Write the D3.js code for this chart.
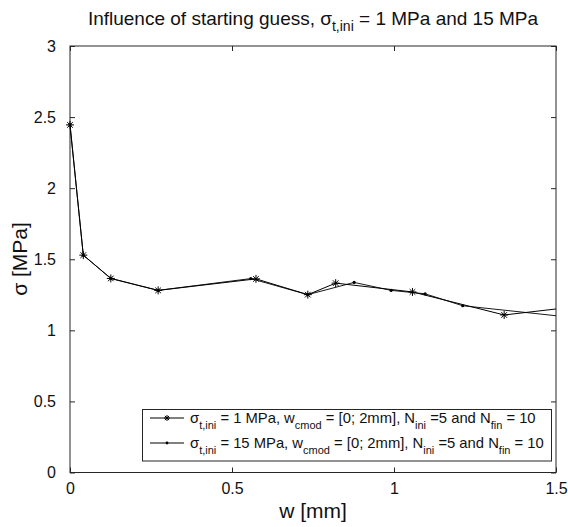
<!DOCTYPE html>
<html><head><meta charset="utf-8">
<script src="https://cdn.jsdelivr.net/npm/d3@7"></script>
<style>body{margin:0;background:#fff}svg{display:block;font-family:"Liberation Sans",Arial,sans-serif}</style>
</head><body>
<svg id="c" width="568" height="527"></svg>
<script>
const xTicks = [0, 0.5, 1, 1.5];
const yTicks = [0, 0.5, 1, 1.5, 2, 2.5, 3];
const xTickLabels = ["0", "0.5", "1", "1.5"];
const yTickLabels = ["0", "0.5", "1", "1.5", "2", "2.5", "3"];
// series 1: sigma_t,ini = 1 MPa (asterisk markers)
const s1W = [0, 0.041, 0.126, 0.272, 0.574, 0.734, 0.820, 1.057, 1.340, 1.70];
const s1S = [2.445, 1.529, 1.365, 1.281, 1.362, 1.251, 1.332, 1.270, 1.108, 1.203];
// series 2: sigma_t,ini = 15 MPa (point markers)
const s2W = [0, 0.041, 0.126, 0.272, 0.558, 0.734, 0.877, 0.991, 1.096, 1.212, 1.70];
const s2S = [2.445, 1.529, 1.365, 1.281, 1.364, 1.251, 1.337, 1.281, 1.257, 1.173, 1.054];
const legendRows = [
  [["σ"],["t,ini",1],[" = 1 MPa, w"],["cmod",1],[" = [0; 2mm], N"],["ini",1],[" =5 and N"],["fin",1],[" = 10"]],
  [["σ"],["t,ini",1],[" = 15 MPa, w"],["cmod",1],[" = [0; 2mm], N"],["ini",1],[" =5 and N"],["fin",1],[" = 10"]]
];
const titleSegs = [["Influence of starting guess, σ"],["t,ini",1],[" = 1 MPa and 15 MPa"]];

const svg = d3.select("#c");
const L = 70, R = 556, T = 46, B = 472.5;
const x = d3.scaleLinear().domain([0, 1.5]).range([L, R]);
const y = d3.scaleLinear().domain([0, 3]).range([B, T]);
const axCol = "#262626";

svg.append("defs").append("clipPath").attr("id","clip")
  .append("rect").attr("x",L).attr("y",T).attr("width",R-L).attr("height",B-T);

function rich(t, segs, size, subSize, subDy) {
  let prevSub = false;
  segs.forEach(s => {
    const isSub = !!s[1];
    const sp = t.append("tspan").text(s[0]).attr("font-size", isSub ? subSize : size);
    if (isSub && !prevSub) sp.attr("dy", subDy);
    if (!isSub && prevSub) sp.attr("dy", -subDy);
    prevSub = isSub;
  });
  return t;
}

// axes (box with inward ticks)
const axG = svg.append("g");
const bottomAxis = d3.axisBottom(x).tickValues(xTicks).tickSize(-5).tickFormat((d,i)=>xTickLabels[i]).tickPadding(10);
const topAxis = d3.axisTop(x).tickValues(xTicks).tickSize(-5).tickFormat("");
const leftAxis = d3.axisLeft(y).tickValues(yTicks).tickSize(-5).tickFormat((d,i)=>yTickLabels[i]).tickPadding(14);
const rightAxis = d3.axisRight(y).tickValues(yTicks).tickSize(-5).tickFormat("");
[[bottomAxis,`translate(0,${B})`],[topAxis,`translate(0,${T})`],[leftAxis,`translate(${L},0)`],[rightAxis,`translate(${R},0)`]].forEach(([a,tr])=>{
  const g = axG.append("g").attr("transform",tr).call(a);
  g.select(".domain").attr("stroke",axCol).attr("d", null);
  g.selectAll(".tick line").attr("stroke",axCol);
  g.selectAll("text").attr("fill","#111").attr("font-size",16).attr("font-family","Liberation Sans, Arial, sans-serif");
});
axG.append("rect").attr("x",L).attr("y",T).attr("width",R-L).attr("height",B-T)
  .attr("fill","none").attr("stroke",axCol).attr("stroke-width",1);

// lines
const line = d3.line().x(d=>x(d[0])).y(d=>y(d[1]));
const d1 = s1W.map((w,i)=>[w,s1S[i]]);
const d2 = s2W.map((w,i)=>[w,s2S[i]]);
const plotG = svg.append("g");
plotG.append("path").attr("d",line(d2)).attr("fill","none").attr("stroke","#1a1a1a").attr("stroke-width",1).attr("clip-path","url(#clip)");
plotG.append("path").attr("d",line(d1)).attr("fill","none").attr("stroke","#000").attr("stroke-width",1).attr("clip-path","url(#clip)");

function star(g, cx, cy, r) {
  const p = `M${cx-r},${cy}H${cx+r}M${cx},${cy-r}V${cy+r}M${cx-r*0.7},${cy-r*0.7}L${cx+r*0.7},${cy+r*0.7}M${cx-r*0.7},${cy+r*0.7}L${cx+r*0.7},${cy-r*0.7}`;
  g.append("path").attr("d",p).attr("stroke","#000").attr("stroke-width",1).attr("fill","none");
}
d2.filter(d=>d[0]<=1.5).forEach(d=>{
  plotG.append("circle").attr("cx",x(d[0])).attr("cy",y(d[1])).attr("r",1.6).attr("fill","#000");
});
d1.filter(d=>d[0]<=1.5).forEach(d=>star(plotG, x(d[0]), y(d[1]), 4));

// legend
const lg = svg.append("g");
lg.append("rect").attr("x",142.5).attr("y",409.5).attr("width",409).attr("height",51.5)
  .attr("fill","#fff").attr("stroke",axCol).attr("stroke-width",1);
const rowY = [423, 448];
rowY.forEach((ry,i)=>{
  lg.append("line").attr("x1",150).attr("x2",184).attr("y1",ry-5).attr("y2",ry-5).attr("stroke","#000").attr("stroke-width",1);
  if (i===0) star(lg, 167, ry-5, 3);
  else lg.append("circle").attr("cx",167).attr("cy",ry-5).attr("r",1.4).attr("fill","#000");
  const t = lg.append("text").attr("x",190).attr("y",ry).attr("fill","#111");
  rich(t, legendRows[i], 14.8, 11, 6);
});

// title
const tt = svg.append("text").attr("x",313).attr("y",25).attr("text-anchor","middle").attr("fill","#111");
rich(tt, titleSegs, 19, 14, 6);

// axis labels
svg.append("text").attr("x",313).attr("y",518).attr("text-anchor","middle").attr("font-size",21).attr("fill","#111").text("w [mm]");
svg.append("text").attr("transform","translate(27,259) rotate(-90)").attr("text-anchor","middle").attr("font-size",21).attr("fill","#111").text("σ [MPa]");
</script>
</body></html>
